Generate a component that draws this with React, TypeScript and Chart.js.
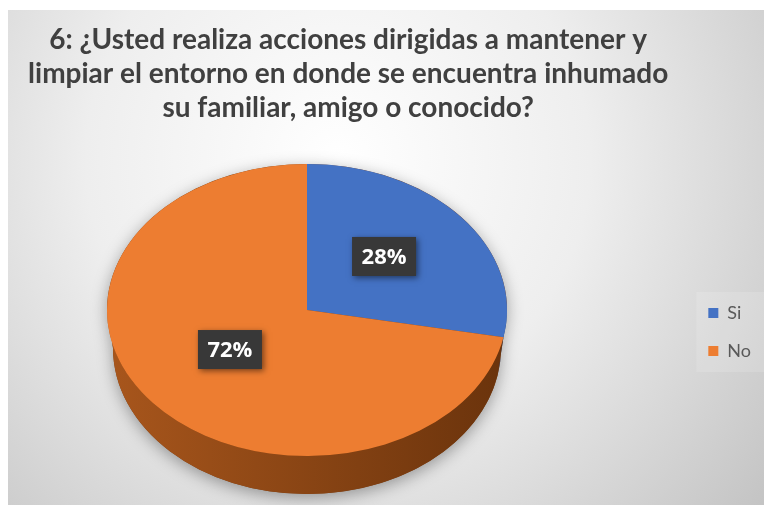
import React, { useEffect, useRef } from "react";
import { Chart, registerables } from "chart.js";

Chart.register(...registerables);

const categories = ["Si", "No"];
const values = [28, 72];
const sliceColors = ["#4472C4", "#ED7D31"];
const sideColors = [
  ["#2f5597", "#1f3a6b"],
  ["#a8561c", "#6a330c"],
];
const titleLines = [
  "6: ¿Usted realiza acciones dirigidas a mantener y",
  "limpiar el entorno en donde se encuentra inhumado",
  "su familiar, amigo o conocido?",
];

// ellipse geometry of the 3D pie top face (canvas px)
const PIE = { cx: 299, cy: 300, rx: 200, ry: 146, depth: 38, taper: 6 };

const background = {
  id: "background",
  beforeDraw(chart: any) {
    const { ctx, width, height } = chart;
    ctx.save();
    const g = ctx.createRadialGradient(330, 150, 0, 330, 150, 560);
    g.addColorStop(0, "#ffffff");
    g.addColorStop(0.45, "#eeeeee");
    g.addColorStop(1, "#c2c2c2");
    ctx.fillStyle = g;
    ctx.fillRect(0, 0, width, height);
    const boxes = chart.legend?.legendHitBoxes || [];
    if (boxes.length) {
      let l = Infinity, t = Infinity, r = -Infinity, b = -Infinity;
      boxes.forEach((h: any) => {
        l = Math.min(l, h.left);
        t = Math.min(t, h.top);
        r = Math.max(r, h.left + h.width);
        b = Math.max(b, h.top + h.height);
      });
      ctx.fillStyle = "rgba(255,255,255,0.14)";
      ctx.fillRect(l - 12, t - 12, r - l + 30, b - t + 24);
    }
    ctx.restore();
  },
};

const pie3d = {
  id: "pie3d",
  beforeDatasetsDraw(chart: any) {
    const arcs = chart.getDatasetMeta(0).data;
    if (!arcs.length) return;
    const { ctx } = chart;
    const { cx, cy, rx, ry, depth, taper } = PIE;
    const a0 = arcs[0];
    const rxb = rx - taper;
    // soft shadow of the whole disc
    ctx.save();
    ctx.shadowColor = "rgba(0,0,0,0.35)";
    ctx.shadowBlur = 16;
    ctx.shadowOffsetY = 4;
    ctx.fillStyle = "#7a3c10";
    ctx.beginPath();
    ctx.ellipse(cx, cy + depth, rxb, ry, 0, 0, Math.PI, false);
    ctx.ellipse(cx, cy, rx, ry, 0, Math.PI, 2 * Math.PI, false);
    ctx.closePath();
    ctx.fill();
    ctx.restore();
    // side walls
    arcs.forEach((arc: any, i: number) => {
      [-2 * Math.PI, 0, 2 * Math.PI].forEach((k) => {
        const s = Math.max(arc.startAngle, k);
        const e = Math.min(arc.endAngle, k + Math.PI);
        if (e <= s) return;
        ctx.save();
        ctx.beginPath();
        ctx.ellipse(cx, cy, rx, ry, 0, s, e, false);
        ctx.ellipse(cx, cy + depth, rxb, ry, 0, e, s, true);
        ctx.closePath();
        const g = ctx.createLinearGradient(cx - rx, 0, cx + rx, 0);
        g.addColorStop(0, sideColors[i][0]);
        g.addColorStop(1, sideColors[i][1]);
        ctx.fillStyle = g;
        ctx.fill();
        ctx.restore();
      });
    });
    // squash the library's circle into the ellipse
    ctx.save();
    ctx.translate(cx, cy);
    ctx.scale(rx / a0.outerRadius, ry / a0.outerRadius);
    ctx.translate(-a0.x, -a0.y);
  },
  afterDatasetsDraw(chart: any) {
    const arcs = chart.getDatasetMeta(0).data;
    if (!arcs.length) return;
    const { ctx } = chart;
    ctx.restore();
    const { cx, cy, rx, ry } = PIE;
    const total = values.reduce((a, b) => a + b, 0);
    arcs.forEach((arc: any, i: number) => {
      const mid = (arc.startAngle + arc.endAngle) / 2;
      const x = cx + rx * 0.5 * Math.cos(mid);
      const y = cy + ry * 0.5 * Math.sin(mid) - 7;
      const text = Math.round((values[i] / total) * 100) + "%";
      const w = 64, h = 39;
      ctx.save();
      ctx.shadowColor = "rgba(0,0,0,0.5)";
      ctx.shadowBlur = 6;
      ctx.shadowOffsetX = 2;
      ctx.shadowOffsetY = 2;
      ctx.fillStyle = "#383838";
      ctx.fillRect(x - w / 2, y - h / 2, w, h);
      ctx.restore();
      ctx.save();
      ctx.fillStyle = "#ffffff";
      ctx.font = "bold 22px 'Open Sans'";
      ctx.textAlign = "center";
      ctx.textBaseline = "middle";
      ctx.fillText(text, x, y + 1);
      ctx.restore();
    });
  },
};

export default function App() {
  const ref = useRef<HTMLCanvasElement | null>(null);
  useEffect(() => {
    if (!ref.current) return;
    const chart = new Chart(ref.current, {
      type: "pie",
      data: {
        labels: categories,
        datasets: [
          {
            data: values,
            backgroundColor: sliceColors,
            borderWidth: 0,
          },
        ],
      },
      options: {
        responsive: false,
        animation: false,
        layout: { padding: { right: 9 } },
        plugins: {
          tooltip: { enabled: false },
          title: {
            display: true,
            fullSize: false,
            text: titleLines,
            color: "#404040",
            font: { family: "Lato", size: 28, weight: "bold", lineHeight: 34 / 28 },
            padding: { top: 13, bottom: 34 },
          },
          legend: {
            position: "right",
            fullSize: false,
            labels: {
              boxWidth: 10,
              boxHeight: 10,
              padding: 20,
              color: "#595959",
              font: { family: "Lato", size: 18 },
            },
          },
        },
      },
      plugins: [background, pie3d],
    } as any);
    return () => chart.destroy();
  }, []);
  return (
    <div style={{ paddingTop: 2 }}>
      <canvas ref={ref} width={762} height={495} style={{ display: "block" }} />
    </div>
  );
}
